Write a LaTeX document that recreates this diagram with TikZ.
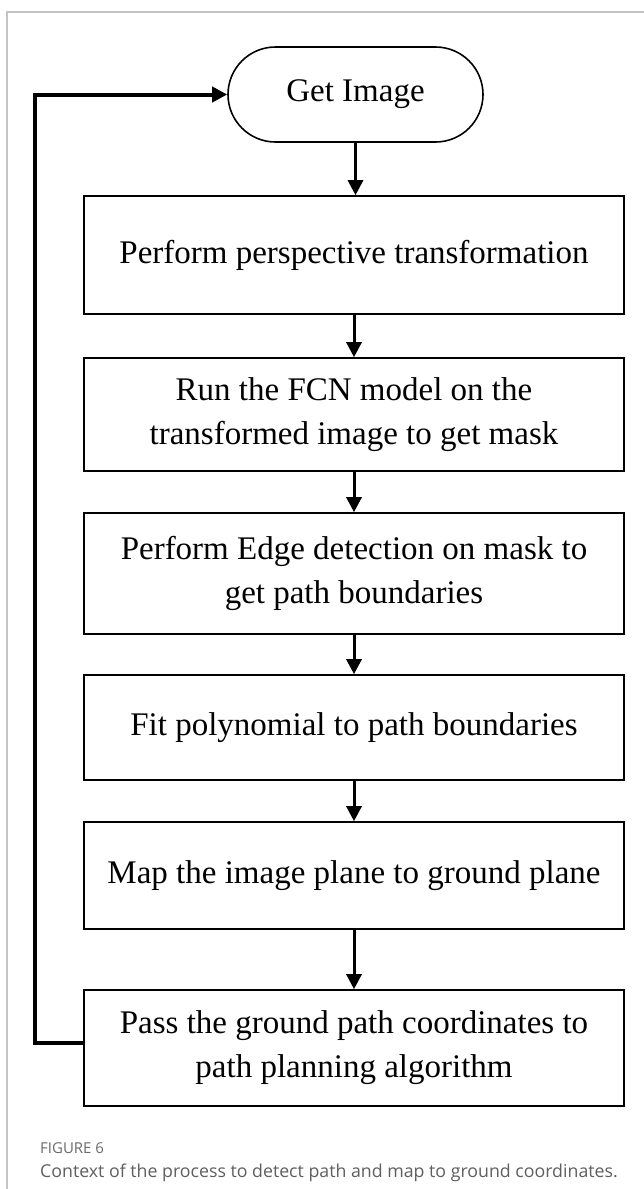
\documentclass[tikz,border=0pt]{standalone}
\usepackage{fontspec}
\setmainfont{Liberation Serif}
\newfontfamily\capfont{Open Sans}
\usetikzlibrary{arrows.meta}
\definecolor{framegrey}{HTML}{C4C4C4}
\definecolor{capgrey}{HTML}{5E5E5E}
\definecolor{labelgrey}{HTML}{6A6A6A}
\tikzset{
  stepbox/.style={draw, line width=1.6pt, minimum width=540pt, inner sep=0pt,
    align=center, font=\fontsize{33}{44}\selectfont},
  startpill/.style={draw, line width=1.6pt, minimum width=255pt, minimum height=95pt,
    rounded corners=47.5pt, inner sep=0pt, font=\fontsize{33}{44}\selectfont},
  flow/.style={line width=3pt, -{Triangle[length=15pt,width=15pt]}},
  loopback/.style={line width=4pt, line join=miter, -{Triangle[length=15pt,width=15pt]}}
}
\begin{document}
\begin{tikzpicture}[x=1pt, y=-1pt]
\useasboundingbox (0,0) rectangle (644,1189);
% page frame
\draw[framegrey, line width=1.2pt] (7,1189) -- (7,12) -- (644,12);

% flow chart nodes
\node[startpill] (pill) at (355.5,94.5) {Get Image};
\node[stepbox, minimum height=118pt] (b1) at (354,255) {Perform perspective transformation};
\node[stepbox, minimum height=113pt] (b2) at (354,414.5) {Run the FCN model on the\\transformed image to get mask};
\node[stepbox, minimum height=121pt] (b3) at (354,573.5) {Perform Edge detection on mask to\\get path boundaries};
\node[stepbox, minimum height=105pt] (b4) at (354,727.5) {Fit polynomial to path boundaries};
\node[stepbox, minimum height=107pt] (b5) at (354,875.5) {Map the image plane to ground plane};
\node[stepbox, minimum height=116pt] (b6) at (354,1048) {Pass the ground path coordinates to\\path planning algorithm};

% forward connectors
\draw[flow] (pill.south) -- (pill.south |- b1.north);
\draw[flow] (b1.south) -- (b2.north);
\draw[flow] (b2.south) -- (b3.north);
\draw[flow] (b3.south) -- (b4.north);
\draw[flow] (b4.south) -- (b5.north);
\draw[flow] (b5.south) -- (b6.north);

% loop back to the start
\coordinate (fbB) at (35,1043);
\coordinate (fbT) at (35,94.5);
\draw[loopback] (b6.west |- fbB) -- (fbB) -- (fbT) -- (pill.west);

% caption
\node[anchor=base west, inner sep=0pt, text=labelgrey, font=\capfont\fontsize{15}{18}\selectfont] (figlabel) at (40,1153) {FIGURE 6};
\node[anchor=base west, inner sep=0pt, text=capgrey, font=\capfont\fontsize{17.75}{22}\selectfont] (figcaption) at (40,1177) {Context of the process to detect path and map to ground coordinates.};
\end{tikzpicture}
\end{document}
